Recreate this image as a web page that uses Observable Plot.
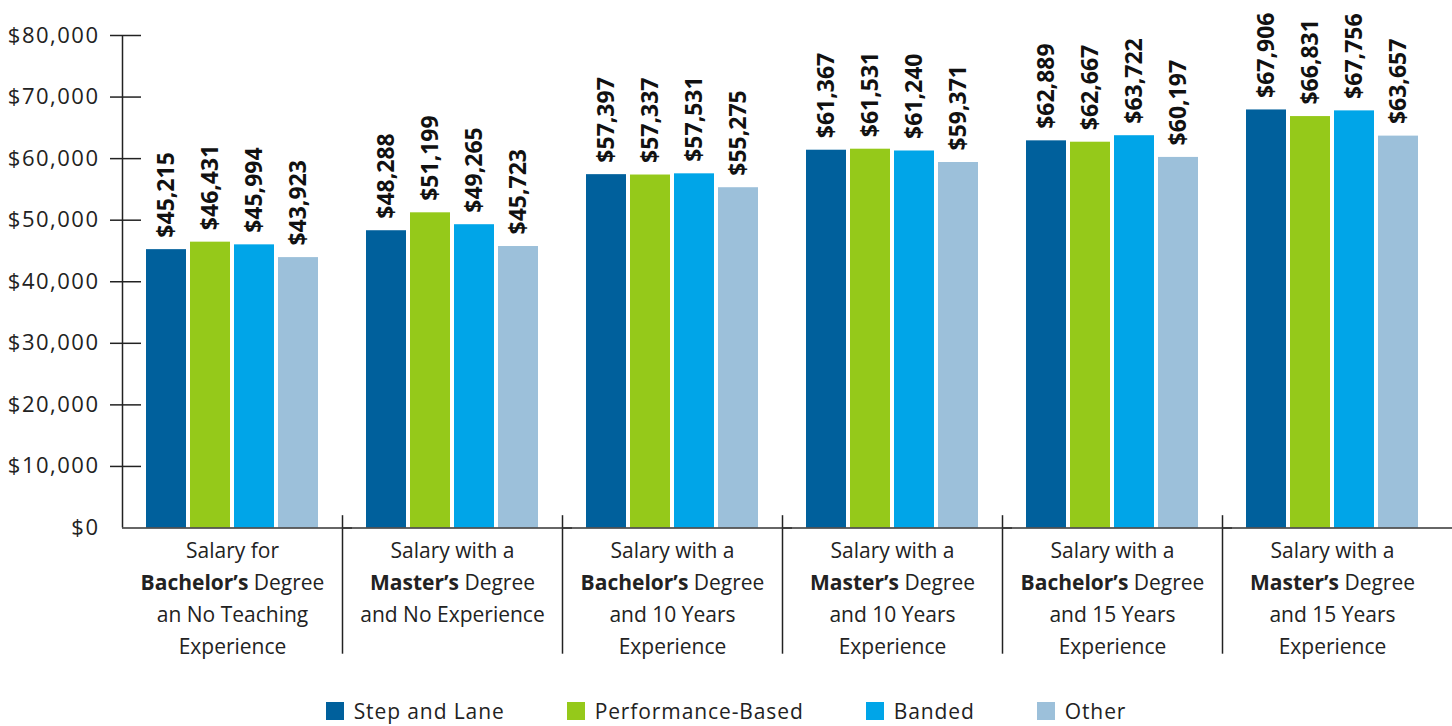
<!DOCTYPE html>
<html><head><meta charset="utf-8">
<script src="https://cdn.jsdelivr.net/npm/d3@7"></script>
<script src="https://cdn.jsdelivr.net/npm/@observablehq/plot@0.6"></script>
<style>
body{margin:0;background:#fff;font-family:"Open Sans",sans-serif;}
#legend{display:flex;justify-content:center;gap:62px;font-size:21px;color:#222;height:42px;align-items:center;width:1452px;letter-spacing:0.9px}
.item{display:flex;align-items:center}
.sw{width:18px;height:18px;margin-right:10px;display:inline-block}
g[aria-label="y-axis tick label"] text{letter-spacing:1.5px}
g[aria-label="bar-labels"] text{letter-spacing:0.8px}
g[aria-label="category-labels"] text{letter-spacing:0.4px}
</style></head><body>
<div id="chart"></div>
<div id="legend"></div>
<script>
const categories = ["c1","c2","c3","c4","c5","c6"];
const categoryLabels = [
  "Salary for\nBachelor’s Degree\nan No Teaching\nExperience",
  "Salary with a\nMaster’s Degree\nand No Experience",
  "Salary with a\nBachelor’s Degree\nand 10 Years\nExperience",
  "Salary with a\nMaster’s Degree\nand 10 Years\nExperience",
  "Salary with a\nBachelor’s Degree\nand 15 Years\nExperience",
  "Salary with a\nMaster’s Degree\nand 15 Years\nExperience"
];
const series = ["Step and Lane", "Performance-Based", "Banded", "Other"];
const colors = ["#00609c", "#95c91a", "#00a5e8", "#9cc0da"];
const stepAndLane      = [45215, 48288, 57397, 61367, 62889, 67906];
const performanceBased = [46431, 51199, 57337, 61531, 62667, 66831];
const banded           = [45994, 49265, 57531, 61240, 63722, 67756];
const other            = [43923, 45723, 55275, 59371, 60197, 63657];
const yTicks = [0, 10000, 20000, 30000, 40000, 50000, 60000, 70000, 80000];

const seriesValues = [stepAndLane, performanceBased, banded, other];
const data = categories.flatMap((c, i) => series.map((s, j) => ({category: c, series: s, value: seriesValues[j][i]})));
const fmt = d3.format(",");
const money = d => "$" + fmt(d);

const H = 690;
const ink = "#222";
const chart = Plot.plot({
  width: 1452, height: H,
  marginLeft: 122, marginRight: 10, marginTop: 35, marginBottom: H - 527.5,
  style: {fontFamily: "'Open Sans', sans-serif", fontSize: "22px", color: ink, background: "#fff", overflow: "visible"},
  fx: {domain: categories, padding: 0, axis: null},
  x: {domain: series, paddingInner: 4/44, paddingOuter: 24/44, axis: null},
  y: {domain: [0, 80000], axis: null},
  color: {domain: series, range: colors},
  marks: [
    Plot.barY(data, {fx: "category", x: "series", y: "value", fill: "series"}),
    Plot.text(data, {fx: "category", x: "series", y: "value", text: d => money(d.value), ariaLabel: "bar-labels",
      rotate: -90, textAnchor: "start", dy: -12, fontWeight: "bold", fontSize: 23, fill: "#111"}),
    Plot.axisY({ticks: yTicks, tickSize: 0, tickPadding: 23, tickFormat: money, label: null, fontSize: 22, fill: ink}),
    Plot.ruleY(yTicks.slice(1), {fx: () => categories[0], insetLeft: -12, insetRight: 201, stroke: ink, strokeWidth: 1.5}),
    Plot.ruleX([categories[0]], {fx: d => d, x: () => series[0], dx: -44, y1: 0, y2: 80000, stroke: ink, strokeWidth: 1.5}),
    Plot.ruleX(categories.slice(1), {fx: d => d, x: () => series[0], dx: -44, y1: 2000, y2: -20500, stroke: ink, strokeWidth: 1.5}),
    Plot.ruleY([0], {insetRight: -10, stroke: "#333", strokeWidth: 1.5}),
    Plot.text(categories, {fx: d => d, text: (d, i) => categoryLabels[i], frameAnchor: "bottom", ariaLabel: "category-labels",
      lineAnchor: "top", dy: 7, lineHeight: 32/21, fontSize: 21, fill: ink})
  ]
});

d3.select(chart).selectAll("tspan").each(function() {
  const t = this.textContent;
  const m = t.match(/^(Bachelor’s|Master’s) (.*)$/);
  if (m) {
    this.textContent = "";
    d3.select(this).append("tspan").attr("font-weight", "bold").text(m[1]);
    d3.select(this).append("tspan").text(" " + m[2]);
  }
});
document.getElementById("chart").appendChild(chart);

const legend = d3.select("#legend");
series.forEach((s, i) => {
  const it = legend.append("div").attr("class", "item");
  it.append("span").attr("class", "sw").style("background", colors[i]);
  it.append("span").text(s);
});
</script>
</body></html>
